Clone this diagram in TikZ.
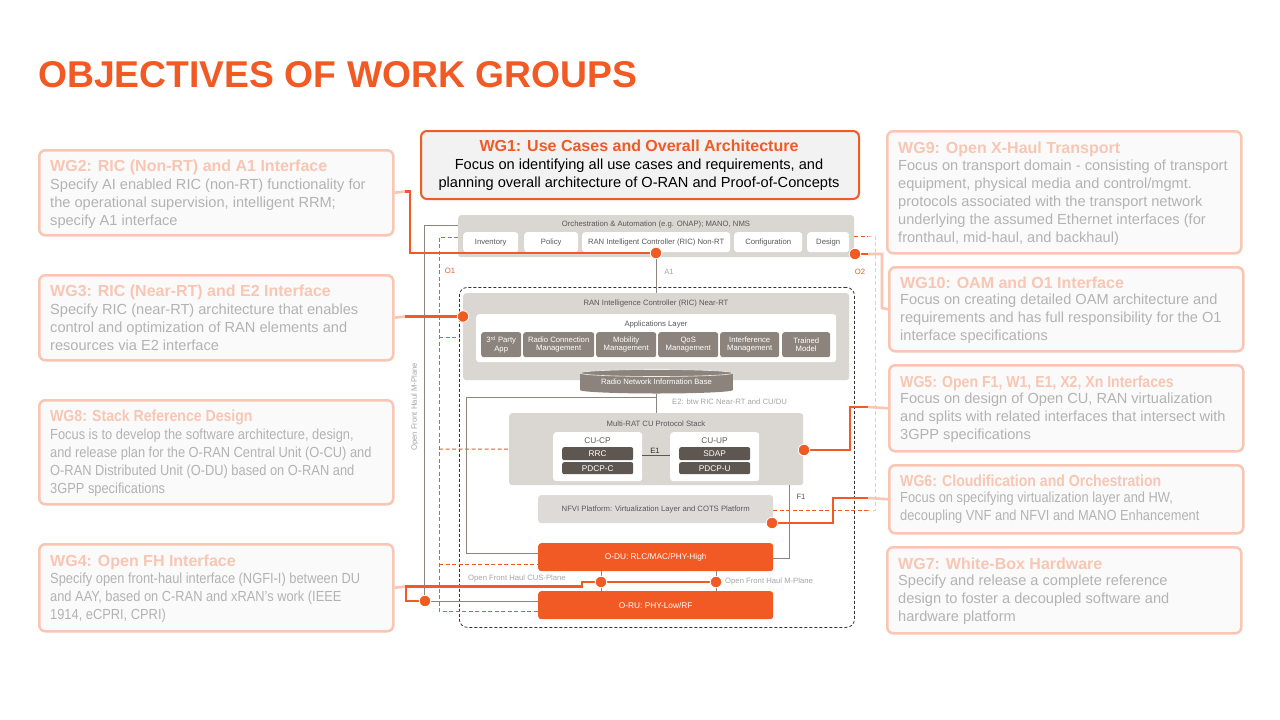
\documentclass[tikz,border=0pt]{standalone}
\usepackage{fontspec}
\setmainfont{Liberation Sans}
\newfontfamily\condfont[FakeStretch=0.88]{Liberation Sans}
\definecolor{oran}{HTML}{F15A24}
\definecolor{paleor}{HTML}{F8C6B3}
\definecolor{palegray}{HTML}{B3B3B3}
\definecolor{sidefill}{HTML}{FAFAFA}
\definecolor{wgfill}{HTML}{F2F2F2}
\definecolor{boxgray}{HTML}{DAD6D2}
\definecolor{nfvigray}{HTML}{DDDAD7}
\definecolor{appgray}{HTML}{8C847C}
\definecolor{cugray}{HTML}{5E5751}
\definecolor{txtgray}{HTML}{595959}
\definecolor{lblgray}{HTML}{A6A6A6}
\definecolor{linegray}{HTML}{8A8580}
\newcommand\sfz{\fontsize{7.7}{8.6}\selectfont}
\pgfdeclarelayer{fg}
\pgfsetlayers{main,fg}
\begin{document}
\begin{tikzpicture}[x=1pt,y=-1pt,
  sidebox/.style={draw=paleor, line width=2.5pt, fill=sidefill, rounded corners=6pt, anchor=north west, inner sep=0},
  sidetitle/.style={anchor=base west, inner sep=0, text=paleor, font=\fontsize{16}{19}\selectfont\bfseries},
  condtitle/.style={anchor=base west, inner sep=0, text=paleor, font=\condfont\fontsize{16}{19}\selectfont\bfseries},
  sidebody/.style={anchor=north west, inner sep=0, text=palegray, align=left, font=\fontsize{14.6}{18}\selectfont},
  condbody/.style={anchor=north west, inner sep=0, text=palegray, align=left, font=\condfont\fontsize{14.6}{18}\selectfont},
  graybox/.style={fill=boxgray, rounded corners=3pt, anchor=north west, inner sep=0},
  wbox/.style={fill=white, rounded corners=3pt, anchor=north west, inner sep=0, text=txtgray, font=\sfz},
  appbox/.style={fill=appgray, rounded corners=2.5pt, anchor=north west, inner sep=0, text=white, align=center, font=\sfz},
  cubox/.style={fill=cugray, rounded corners=2pt, anchor=north west, inner sep=0, text=white, font=\fontsize{8.3}{9}\selectfont},
  orbox/.style={fill=oran, rounded corners=3pt, anchor=north west, inner sep=0, text=white, font=\fontsize{8.3}{9}\selectfont},
  lbl/.style={inner sep=0, text=txtgray, font=\sfz},
  lbll/.style={inner sep=0, text=lblgray, font=\sfz},
  gline/.style={draw=linegray, line width=1pt},
  o1dash/.style={draw=oran, line width=1pt, dash pattern=on 4pt off 2.5pt},
  o2dash/.style={draw=paleor, line width=1pt, dash pattern=on 4pt off 2.5pt},
  conn/.style={draw=oran, line width=2.6pt},
  pconn/.style={draw=paleor, line width=2.6pt},
  dot/.style={circle, fill=oran, draw=white, line width=0.8pt, minimum size=11.5pt, inner sep=0}
]
\fill[white] (0,0) rectangle (1280,720);
\useasboundingbox (0,0) rectangle (1280,720);

% title
\node[anchor=base west, inner sep=0, text=oran, font=\fontsize{37.3}{40}\selectfont\bfseries] (title) at (38,87) {OBJECTIVES OF WORK GROUPS};

% left side boxes
\node[sidebox, minimum width=354pt, minimum height=85pt] (wg2) at (38,149) {};
\node[sidetitle] (wg2t) at (50,171) {WG2: RIC (Non-RT) and A1 Interface};
\node[sidebody] (wg2b) at (50,178.5) {Specify AI enabled RIC (non-RT) functionality for\\the operational supervision, intelligent RRM;\\specify A1 interface};

\node[sidebox, minimum width=354pt, minimum height=85pt] (wg3) at (38,274) {};
\node[sidetitle] (wg3t) at (50,296) {WG3: RIC (Near-RT) and E2 Interface};
\node[sidebody] (wg3b) at (50,303.5) {Specify RIC (near-RT) architecture that enables\\control and optimization of RAN elements and\\resources via E2 interface};

\node[sidebox, minimum width=354pt, minimum height=104pt] (wg8) at (38,399) {};
\node[condtitle] (wg8t) at (50,421) {WG8: Stack Reference Design};
\node[condbody] (wg8b) at (50,428.5) {Focus is to develop the software architecture, design,\\and release plan for the O-RAN Central Unit (O-CU) and\\O-RAN Distributed Unit (O-DU) based on O-RAN and\\3GPP specifications};

\node[sidebox, minimum width=354pt, minimum height=87pt] (wg4) at (38,543) {};
\node[sidetitle] (wg4t) at (50,566) {WG4: Open FH Interface};
\node[condbody] (wg4b) at (50,572.5) {Specify open front-haul interface (NGFI-I) between DU\\and AAY, based on C-RAN and xRAN’s work (IEEE\\1914, eCPRI, CPRI)};

% right side boxes
\node[sidebox, minimum width=354pt, minimum height=122pt] (wg9) at (886,130) {};
\node[sidetitle] (wg9t) at (898,153) {WG9: Open X-Haul Transport};
\node[sidebody] (wg9b) at (898,159.5) {Focus on transport domain - consisting of transport\\equipment, physical media and control/mgmt.\\protocols associated with the transport network\\underlying the assumed Ethernet interfaces (for\\fronthaul, mid-haul, and backhaul)};

\node[sidebox, minimum width=354pt, minimum height=84pt] (wg10) at (888,266) {};
\node[sidetitle] (wg10t) at (900,288) {WG10: OAM and O1 Interface};
\node[sidebody] (wg10b) at (900,293.5) {Focus on creating detailed OAM architecture and\\requirements and has full responsibility for the O1\\interface specifications};

\node[sidebox, minimum width=354pt, minimum height=86pt] (wg5) at (888,364) {};
\node[condtitle] (wg5t) at (900,387) {WG5: Open F1, W1, E1, X2, Xn Interfaces};
\node[sidebody] (wg5b) at (900,392.5) {Focus on design of Open CU, RAN virtualization\\and splits with related interfaces that intersect with\\3GPP specifications};

\node[sidebox, minimum width=354pt, minimum height=68pt] (wg6) at (888,464) {};
\node[condtitle] (wg6t) at (900,486) {WG6: Cloudification and Orchestration};
\node[condbody] (wg6b) at (900,491.5) {Focus on specifying virtualization layer and HW,\\decoupling VNF and NFVI and MANO Enhancement};

\node[sidebox, minimum width=354pt, minimum height=86pt] (wg7) at (886,546) {};
\node[sidetitle] (wg7t) at (898,569) {WG7: White-Box Hardware};
\node[sidebody] (wg7b) at (898,574.5) {Specify and release a complete reference\\design to foster a decoupled software and\\hardware platform};

% WG1
\node[draw=oran, line width=2pt, fill=wgfill, rounded corners=6pt, anchor=north west, inner sep=0, minimum width=438pt, minimum height=68pt] (wg1) at (420,130) {};
\node[anchor=base, inner sep=0, text=oran, font=\fontsize{16}{19}\selectfont\bfseries] (wg1t) at (639,151) {WG1: Use Cases and Overall Architecture};
\node[anchor=north, inner sep=0, text=black, align=center, font=\fontsize{14.6}{18}\selectfont] (wg1b) at (639,158.5) {Focus on identifying all use cases and requirements, and\\planning overall architecture of O-RAN and Proof-of-Concepts};

% dots (on the front layer)
\begin{pgfonlayer}{fg}
\node[dot] (d1) at (656,253) {};
\node[dot] (d2) at (855,254) {};
\node[dot] (d3) at (463,316.5) {};
\node[dot] (d4) at (804,450) {};
\node[dot] (d5) at (772,523) {};
\node[dot] (d6) at (601,582) {};
\node[dot] (d7) at (716,582) {};
\node[dot] (d8) at (425,601) {};
\end{pgfonlayer}

% dashed scope
\node[draw=black!80, line width=0.8pt, dash pattern=on 3pt off 2pt, rounded corners=8pt, anchor=north west, inner sep=0, minimum width=395pt, minimum height=340pt] (scope) at (459,287) {};

% orchestration
\node[graybox, minimum width=396pt, minimum height=42pt] (orch) at (458,215) {};
\node[lbl] (orcht) at (656,225) {Orchestration \& Automation (e.g. ONAP); MANO, NMS};
\node[wbox, minimum width=55pt, minimum height=20pt] (inv) at (463,232) {Inventory};
\node[wbox, minimum width=54pt, minimum height=20pt] (pol) at (524,232) {Policy};
\node[wbox, minimum width=148pt, minimum height=20pt] (nonrt) at (582,232) {RAN Intelligent Controller (RIC) Non-RT};
\node[wbox, minimum width=68pt, minimum height=20pt] (conf) at (734,232) {Configuration};
\node[wbox, minimum width=42pt, minimum height=20pt] (des) at (807,232) {Design};

% near-RT
\node[graybox, minimum width=386pt, minimum height=87pt] (ricnrt) at (463,293) {};
\node[lbl] (ricnrtt) at (656,304) {RAN Intelligence Controller (RIC) Near-RT};
\node[wbox, minimum width=360pt, minimum height=48pt] (applayer) at (476,314) {};
\node[lbl] (applayert) at (656,325) {Applications Layer};
\node[appbox, minimum width=40pt, minimum height=25pt] (app1) at (481,332) {3\textsuperscript{rd} Party\\App};
\node[appbox, minimum width=71pt, minimum height=25pt] (app2) at (523,332) {Radio Connection\\Management};
\node[appbox, minimum width=60pt, minimum height=25pt] (app3) at (596,332) {Mobility\\Management};
\node[appbox, minimum width=60pt, minimum height=25pt] (app4) at (658,332) {QoS\\Management};
\node[appbox, minimum width=59pt, minimum height=25pt] (app5) at (720,332) {Interference\\Management};
\node[appbox, minimum width=48pt, minimum height=25pt] (app6) at (782,332) {Trained\\Model};

% CU
\node[graybox, minimum width=294pt, minimum height=72pt] (cu) at (509,413) {};
\node[lbl] (cut) at (656,424) {Multi-RAT CU Protocol Stack};
\node[wbox, minimum width=89pt, minimum height=49pt] (cucp) at (553,432) {};
\node[lbl, font=\fontsize{8.3}{9}\selectfont] (cucpt) at (597.5,440.5) {CU-CP};
\node[cubox, minimum width=71pt, minimum height=13pt] (rrc) at (562,447) {RRC};
\node[cubox, minimum width=71pt, minimum height=12pt] (pdcpc) at (562,462) {PDCP-C};
\node[wbox, minimum width=89pt, minimum height=49pt] (cuup) at (670,432) {};
\node[lbl, font=\fontsize{8.3}{9}\selectfont] (cuupt) at (714.5,440.5) {CU-UP};
\node[cubox, minimum width=71pt, minimum height=13pt] (sdap) at (679,447) {SDAP};
\node[cubox, minimum width=71pt, minimum height=12pt] (pdcpu) at (679,462) {PDCP-U};

% NFVI, DU, RU
\node[graybox, fill=nfvigray, minimum width=235pt, minimum height=28pt, text=txtgray, font=\sfz] (nfvi) at (538,495) {NFVI Platform: Virtualization Layer and COTS Platform};
\node[orbox, minimum width=235pt, minimum height=28pt] (odu) at (538,543) {O-DU: RLC/MAC/PHY-High};
\node[orbox, minimum width=235pt, minimum height=28pt] (oru) at (538,591) {O-RU: PHY-Low/RF};

% cylinder
\fill[appgray] (580,373) rectangle (733,390);
\fill[appgray] (656.5,390) ellipse [x radius=76.5pt, y radius=3.5pt];
\filldraw[fill=appgray, draw=white!85!appgray, line width=0.6pt] (656.5,373) ellipse [x radius=76.5pt, y radius=3.5pt];
\node[inner sep=0, minimum width=153pt, minimum height=24pt, text=white, font=\sfz] (rnib) at (656.5,382) {Radio Network Information Base};

% gray connectors
\draw[gline] (orch.west |- 0,225) -- (424,225) -- (424,601) -- (oru.west |- 0,601);
\draw[gline] (d1) -- (d1 |- ricnrt.north);
\draw[gline] (rnib.south) -- (rnib.south |- cu.north);
\draw[gline] (rnib.south |- 0,397) -- (466,397) -- (466,553) -- (odu.west |- 0,553);
\draw[gline] (cu.south -| 789,0) -- (789,558) -- (odu.east |- 0,558);
\draw[gline] (odu.south -| d6) -- (oru.north -| d6);
\draw[gline] (odu.south -| d7) -- (oru.north -| d7);
\draw[draw=cugray, line width=0.8pt] (cucp.east |- 0,455) -- (cuup.west |- 0,455);

% O1 / O2 dashed
\draw[o1dash] (orch.west |- 0,237) -- (439,237) -- (439,611) -- (oru.west |- 0,611);
\draw[o1dash] (439,337) -- (scope.west |- 0,337);
\draw[o1dash] (439,449) -- (cu.west);
\draw[o1dash] (439,564) -- (odu.west |- 0,564);
\coordinate (o2a) at (868,236);
\coordinate (o2b) at (868,510);
\draw[o1dash] (orch.east |- o2a) -- (o2a);
\draw[o2dash] (o2a) -- (875,236) -- (875,510) -- (o2b);
\draw[o1dash] (o2b) -- (nfvi.east |- o2b);

% orange connectors
\coordinate (c2) at (405,191.5);
\draw[pconn] (wg2.east) -- (c2);
\draw[conn] (c2) -- (410,191.5) -- (410,253) -- (d1);
\coordinate (c3) at (405,316.5);
\draw[pconn] (wg3.east) -- (c3);
\draw[conn] (c3) -- (d3);
\coordinate (c4) at (406,586.5);
\draw[pconn] (wg4.east) -- (c4);
\draw[conn] (d8) -- (406,601) -- (c4) -- (582,586.5) -- (582,582) -- (d6);
\draw[conn] (d6) -- (d7);
\coordinate (c5) at (868,407);
\draw[conn] (d4) -- (850,450) -- (850,407) -- (c5);
\draw[pconn] (c5) -- (wg5.west);
\coordinate (c6) at (868,498);
\draw[conn] (d5) -- (833,523) -- (833,498) -- (c6);
\draw[pconn] (c6) -- (wg6.west);
\coordinate (c10) at (868,254);
\draw[conn] (d2) -- (c10);
\draw[pconn] (c10) -- (882,254) -- (882,308) -- (wg10.west);

% labels
\node[lbll] (a1) at (669,272) {A1};
\node[lbll, anchor=west] (e2l) at (672,402) {E2: btw RIC Near-RT and CU/DU};
\node[lbl] (f1) at (801,497) {F1};
\node[lbl, text=black!80] (e1l) at (655,451) {E1};
\node[inner sep=0, text=oran, font=\sfz] (o1) at (450,271) {O1};
\node[inner sep=0, text=oran, font=\sfz] (o2) at (860,272) {O2};
\node[lbll, anchor=west] (cus) at (468,579) {Open Front Haul CUS-Plane};
\node[lbll, anchor=west] (mpl) at (725,582) {Open Front Haul M-Plane};
\node[lbll, rotate=90] (mplv) at (415,407) {Open Front Haul M-Plane};
\end{tikzpicture}
\end{document}
